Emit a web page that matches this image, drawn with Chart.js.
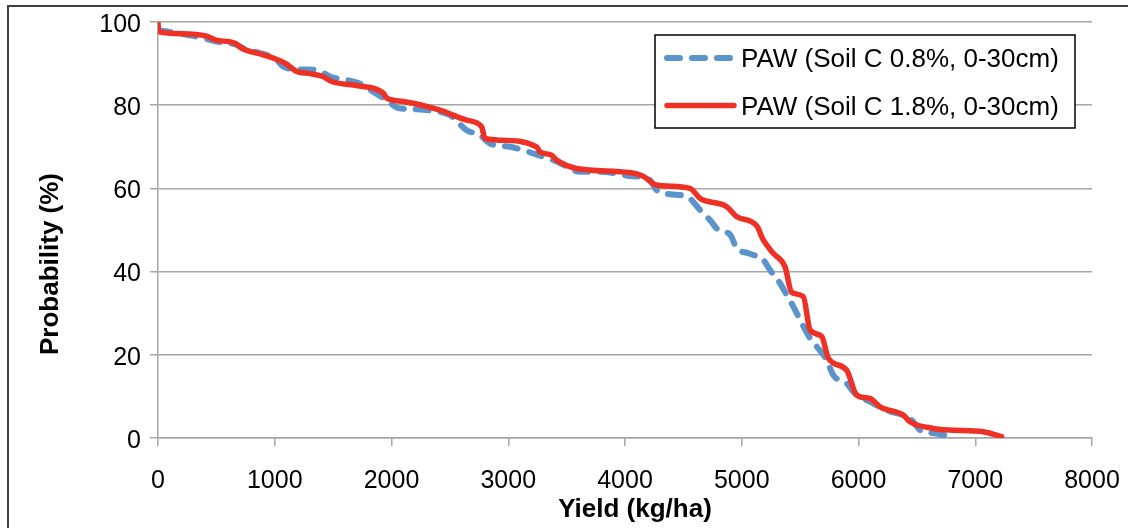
<!DOCTYPE html>
<html>
<head>
<meta charset="utf-8">
<script src="https://cdn.jsdelivr.net/npm/chart.js@4.4.0/dist/chart.umd.min.js"></script>
<style>
  body { margin: 0; background: #fff; }
  #wrap { width: 1128px; height: 528px; }
</style>
</head>
<body>
<div id="wrap"><canvas id="cdfChart" width="1128" height="528"></canvas></div>
<script>
// yield (kg/ha) vs probability of exceedance (%)
const lowCYield = [0, 330, 502, 673, 730, 1016, 1073, 1216, 1359, 1473, 1716, 1845, 1960, 2058, 2216, 2330, 2501, 2644, 2758, 2843,
    3015, 3129, 3257, 3414, 3614, 3786, 4041, 4213, 4270, 4385, 4528, 4643, 4728, 4800, 4900, 4957, 5057, 5184, 5242, 5328,
    5385, 5442, 5499, 5585, 5641, 5727, 5784, 5899, 5956, 6127, 6241, 6413, 6470, 6527, 6669, 6800];
const lowCProb = [98, 96.5, 95.3, 94.5, 93.7, 90.9, 89.3, 88.6, 88.5, 86.9, 85.3, 83.2, 81.2, 79.3, 79.0, 78.7, 77.6, 74.0, 72.8, 70.8,
    70.0, 69.2, 68.0, 66.5, 64.0, 64.0, 63.0, 62.0, 59.6, 58.6, 58.1, 54.8, 52.4, 50.0, 48.9, 45.6, 44.4, 42.8, 40.4, 37.2,
    34.4, 31.6, 28.4, 24.0, 22.0, 18.8, 15.1, 13.1, 11.1, 8.3, 6.7, 5.1, 3.9, 1.9, 1.1, 0.3];

const highCYield = [0, 5, 200, 417, 488, 660, 717, 900, 1000, 1088, 1188, 1300, 1413, 1488, 1730, 1930, 1960, 2100, 2415, 2644,
    2772, 2800, 2929, 3243, 3270, 3371, 3414, 3585, 4041, 4156, 4270, 4557, 4643, 4871, 4957, 5128, 5184, 5270, 5370, 5428,
    5527, 5585, 5685, 5742, 5899, 5984, 6098, 6184, 6384, 6441, 6641, 6784, 7068, 7226];
const highCProb = [100, 97.7, 97.2, 96.6, 95.7, 94.9, 93.7, 92.1, 91.2, 90.1, 88.1, 87.6, 86.9, 85.7, 84.6, 82.9, 81.7, 80.9, 78.8, 76.4,
    74.8, 72.0, 71.6, 70.0, 68.8, 68.0, 66.8, 64.8, 63.8, 62.9, 60.8, 60.0, 57.6, 55.6, 53.2, 51.0, 47.6, 44.4, 41.2, 35.0,
    34.0, 26.0, 24.4, 19.2, 16.3, 10.3, 9.5, 7.5, 5.5, 3.9, 2.3, 1.9, 1.5, 0.3];

const seriesNames = ['PAW (Soil C 0.8%, 0-30cm)', 'PAW (Soil C 1.8%, 0-30cm)'];
const xTicks = [0, 1000, 2000, 3000, 4000, 5000, 6000, 7000, 8000];
const yTicks = [0, 20, 40, 60, 80, 100];
const xTitle = 'Yield (kg/ha)';
const yTitle = 'Probability (%)';

const FONT = "'Liberation Sans', Arial, sans-serif";
const BLUE = '#5b93cb';
const RED = '#ee3124';
const GRID = '#a6a6a6';

const pts = (xs, ys) => xs.map((x, i) => ({ x: x, y: ys[i] }));

// frame, axis titles and the boxed legend
const extras = {
    id: 'extras',
    afterDraw(chart) {
        const ctx = chart.ctx;
        const a = chart.chartArea;
        ctx.save();
        // outer frame (left + top visible)
        ctx.strokeStyle = '#404040';
        ctx.lineWidth = 2;
        ctx.beginPath();
        ctx.moveTo(8, 528);
        ctx.lineTo(8, 6);
        ctx.lineTo(1128, 6);
        ctx.stroke();

        // axis titles
        ctx.fillStyle = '#000';
        ctx.font = 'bold 26px ' + FONT;
        ctx.textAlign = 'center';
        ctx.textBaseline = 'middle';
        ctx.fillText(xTitle, 635, 510);
        ctx.translate(51, 264);
        ctx.rotate(-Math.PI / 2);
        ctx.fillText(yTitle, 0, 0);
        ctx.setTransform(1, 0, 0, 1, 0, 0);

        // legend
        const bx = a.right - 437, by = a.top + 13, bw = 420, bh = 93;
        ctx.fillStyle = '#fff';
        ctx.fillRect(bx, by, bw, bh);
        ctx.strokeStyle = '#000';
        ctx.lineWidth = 1.5;
        ctx.strokeRect(bx, by, bw, bh);
        const ds = chart.data.datasets;
        ds.forEach((d, i) => {
            const ly = by + 23 + i * 47.5;
            ctx.strokeStyle = d.borderColor;
            ctx.lineWidth = d.borderWidth;
            ctx.lineCap = 'round';
            ctx.setLineDash(d.borderDash || []);
            ctx.beginPath();
            ctx.moveTo(bx + 12, ly);
            ctx.lineTo(bx + 79, ly);
            ctx.stroke();
            ctx.setLineDash([]);
            ctx.fillStyle = '#000';
            ctx.font = '26px ' + FONT;
            ctx.textAlign = 'left';
            ctx.textBaseline = 'middle';
            ctx.fillText(d.label, bx + 86, ly + 2);
        });
        ctx.restore();
    }
};

const chart = new Chart(document.getElementById('cdfChart'), {
    type: 'scatter',
    data: {
        datasets: [
            {
                label: seriesNames[0], data: pts(lowCYield, lowCProb),
                borderColor: BLUE, borderWidth: 6, borderDash: [13, 12], borderCapStyle: 'round',
                showLine: true, pointRadius: 0, cubicInterpolationMode: 'monotone', order: 1
            },
            {
                label: seriesNames[1], data: pts(highCYield, highCProb),
                borderColor: RED, borderWidth: 5.5, borderCapStyle: 'round', borderJoinStyle: 'round',
                showLine: true, pointRadius: 0, cubicInterpolationMode: 'monotone', order: 0
            }
        ]
    },
    options: {
        responsive: false,
        devicePixelRatio: 1,
        animation: false,
        layout: { padding: { left: 0, top: 22, right: 36, bottom: 0 } },
        plugins: { legend: { display: false }, tooltip: { enabled: false } },
        scales: {
            x: {
                type: 'linear', min: 0, max: 8000,
                afterBuildTicks: s => { s.ticks = xTicks.map(v => ({ value: v })); },
                afterFit: s => { s.height = 90; s.paddingLeft = 0; s.paddingRight = 0; },
                grid: { drawOnChartArea: false, drawTicks: true, tickLength: 8, color: GRID, lineWidth: 1.5 },
                border: { color: GRID, width: 1.5 },
                ticks: { color: '#000', font: { family: FONT, size: 25 }, padding: 20, maxRotation: 0, callback: v => String(v) }
            },
            y: {
                type: 'linear', min: 0, max: 100,
                afterBuildTicks: s => { s.ticks = yTicks.map(v => ({ value: v })); },
                afterFit: s => { s.width = 158; s.paddingTop = 0; s.paddingBottom = 0; },
                grid: { drawTicks: true, tickLength: 8, color: GRID, lineWidth: 1.5 },
                border: { color: GRID, width: 1.5 },
                ticks: { color: '#000', font: { family: FONT, size: 25 }, padding: 9, labelOffset: 3, callback: v => String(v) }
            }
        }
    },
    plugins: [extras]
});
</script>
</body>
</html>
